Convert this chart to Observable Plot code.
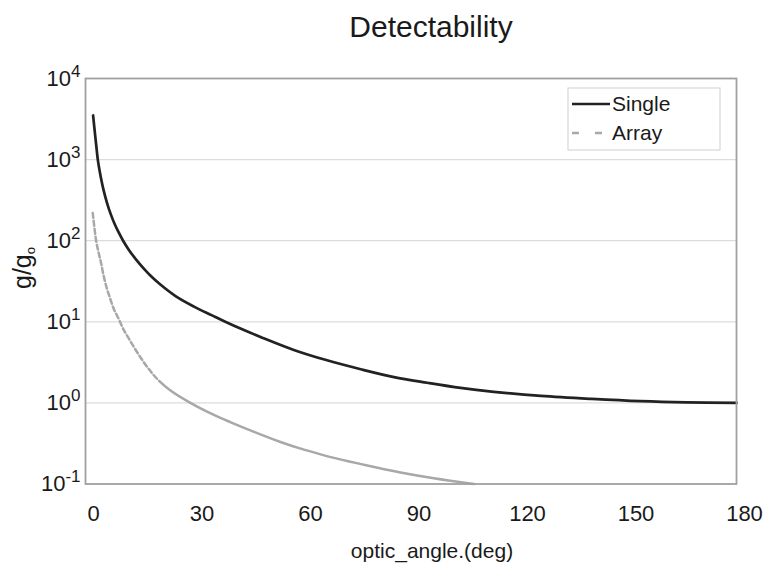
<!DOCTYPE html>
<html>
<head>
<meta charset="utf-8">
<script src="https://cdn.jsdelivr.net/npm/d3@7"></script>
<script src="https://cdn.jsdelivr.net/npm/@observablehq/plot@0.6"></script>
<style>
  body { margin: 0; background: #fff; font-family: "Liberation Sans", Arial, sans-serif; }
  #wrap { position: relative; width: 780px; height: 568px; overflow: hidden; }
  #title { position: absolute; left: 431px; top: 12px; transform: translateX(-50%);
           font-size: 30px; line-height: 30px; color: #1a1a1a; white-space: nowrap; }
  #chart { position: absolute; left: 0; top: 58px; }
</style>
</head>
<body>
<div id="wrap">
  <div id="title"></div>
  <div id="chart"></div>
</div>
<script>
// ---- data ----
const seriesNames = ["Single", "Array"];

const singleAngle = [2.1, 2.5, 3, 3.4, 4, 5, 6, 7, 8, 9, 10.4, 12, 14, 16, 18, 20.7, 25, 30, 35, 38.5, 43, 48.4,
                     57.6, 66.8, 76.1, 85.3, 94.5, 103.7, 112.9, 125.9, 140, 153.5, 166, 180];
const singleValue = [3500, 2350, 1450, 1000, 690, 420, 287, 211, 163, 131, 100, 77, 58.5, 46, 37, 28.8, 20.6, 15.4, 12, 10.1, 8.2, 6.5,
                     4.5, 3.35, 2.6, 2.08, 1.77, 1.53, 1.37, 1.22, 1.12, 1.05, 1.015, 1.0];

const arrayAngle = [2.0, 3.0, 3.7, 4.35, 4.9, 5.8, 6.7, 7.8, 9.2, 10.6, 12, 14.3, 17, 19.8, 23.5, 29, 35.5, 40, 46.6,
                    53.9, 59.5, 65, 68.7, 77.9, 87.1, 96.3, 107.4];
const arrayValue = [220, 96, 69, 52, 39, 26.7, 20.1, 14.5, 10.8, 7.9, 6.2, 4.2, 2.8, 1.98, 1.42, 1.0, 0.71, 0.58, 0.44,
                    0.33, 0.273, 0.232, 0.21, 0.169, 0.139, 0.118, 0.1];

const xTicks = [0, 30, 60, 90, 120, 150, 180];
const yTicks = [0.1, 1, 10, 100, 1000, 10000];
const gridValues = [1, 10, 100, 1000];

const titleText = "Detectability";
const xLabel = "optic_angle.(deg)";

// ---- build tables ----
const single = singleAngle.map((x, i) => ({x, y: singleValue[i]}));
const arr = arrayAngle.map((x, i) => ({x, y: arrayValue[i]}));

// dashed along the steep start of the Array curve, continuous afterwards
const arrayDash = Array(23).fill("5,3").join(",") + ",4000,0";

const font = "Liberation Sans, Arial, sans-serif";

const plot = Plot.plot({
  width: 780,
  height: 510,
  marginTop: 20,
  marginBottom: 84.5,
  marginLeft: 85,
  marginRight: 44,
  style: { fontFamily: font, fontSize: "22px", color: "#1a1a1a", background: "#fff" },
  x: { domain: [0, 180], label: null },
  y: { type: "log", domain: [0.1, 10000], label: null },
  marks: [
    Plot.ruleY(gridValues, { stroke: "#dcdcdc", strokeWidth: 1.2 }),
    Plot.axisX({ ticks: xTicks, tickSize: 0, tickPadding: 21, dx: 8, label: null, tickFormat: d => String(d) }),
    Plot.axisY({ ticks: yTicks, tickSize: 0, tickPadding: 5, label: null,
                 tickFormat: d => "10^" + Math.round(Math.log10(d)) }),
    Plot.line(single, { x: "x", y: "y", stroke: "#222", strokeWidth: 2.7, curve: "catmull-rom" }),
    Plot.line(arr, { x: "x", y: "y", stroke: "#a8a8a8", strokeWidth: 2.5, strokeDasharray: arrayDash, curve: "catmull-rom" }),
    Plot.frame({ stroke: "#a0a0a0", strokeWidth: 1.8 })
  ]
});

document.getElementById("chart").appendChild(plot);
document.getElementById("title").textContent = titleText;

const svg = d3.select(plot);

// superscript exponents on the y tick labels
svg.selectAll('g[aria-label="y-axis tick label"] text').each(function () {
  const parts = this.textContent.split("^");
  const t = d3.select(this);
  t.text(null);
  t.append("tspan").text(parts[0]);
  t.append("tspan").attr("font-size", "17px").attr("dy", "-9").text(parts[1]);
});

// y axis label g/g0
const yl = svg.append("text")
  .attr("transform", "translate(31,210) rotate(-90)")
  .attr("text-anchor", "middle")
  .attr("font-family", font)
  .attr("font-size", "25px")
  .attr("fill", "#1a1a1a");
yl.append("tspan").text("g/g");
yl.append("tspan").attr("font-size", "13px").attr("dy", "4").text("o");

// x axis label
svg.append("text")
  .attr("x", 432).attr("y", 500)
  .attr("text-anchor", "middle")
  .attr("font-family", font)
  .attr("font-size", "21px")
  .attr("fill", "#1a1a1a")
  .text(xLabel);

// legend
const lg = svg.append("g").attr("font-family", font).attr("font-size", "21px").attr("text-anchor", "start");
lg.append("rect").attr("x", 568).attr("y", 30).attr("width", 152).attr("height", 62)
  .attr("fill", "#fff").attr("stroke", "#cfcfcf").attr("stroke-width", 1);
lg.append("line").attr("x1", 572).attr("x2", 610).attr("y1", 46).attr("y2", 46)
  .attr("stroke", "#222").attr("stroke-width", 2.7);
lg.append("line").attr("x1", 572).attr("x2", 603).attr("y1", 75).attr("y2", 75)
  .attr("stroke", "#a8a8a8").attr("stroke-width", 2.5).attr("stroke-dasharray", "7,16");
lg.append("text").attr("x", 612).attr("y", 46).attr("dy", "0.35em").attr("fill", "#1a1a1a").text(seriesNames[0]);
lg.append("text").attr("x", 612).attr("y", 75).attr("dy", "0.35em").attr("fill", "#1a1a1a").text(seriesNames[1]);
</script>
</body>
</html>
